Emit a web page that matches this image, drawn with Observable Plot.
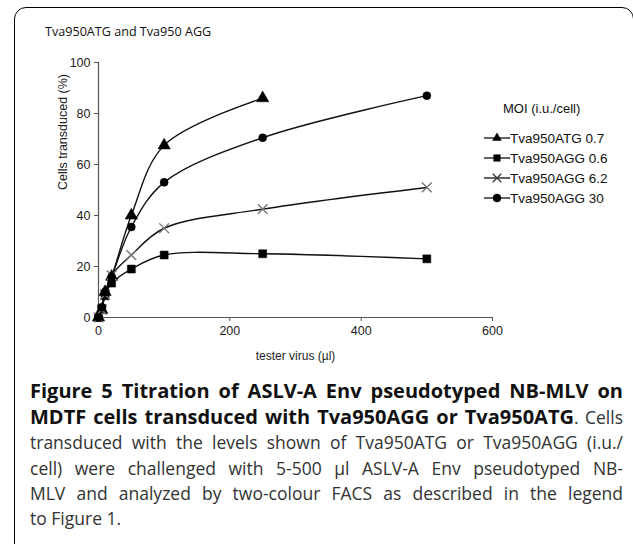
<!DOCTYPE html>
<html><head><meta charset="utf-8">
<script src="https://cdn.jsdelivr.net/npm/d3@7"></script>
<script src="https://cdn.jsdelivr.net/npm/@observablehq/plot@0.6"></script>
<style>
body{margin:0;background:#fff;width:633px;height:544px;overflow:hidden;position:relative;font-family:"Liberation Sans",Arial,sans-serif;}
#frame{position:absolute;left:14px;top:7px;width:620px;height:600px;border:1.5px solid #000;border-radius:12px;box-sizing:border-box;}
#title{position:absolute;left:45px;top:23px;font-family:"Open Sans",sans-serif;font-size:12.6px;color:#111;}
#chart{position:absolute;left:0;top:0;}
#legend{position:absolute;left:484px;top:101px;font-size:13.5px;color:#111;}
#legend .hd{margin-left:19px;margin-bottom:12px;font-size:13px;}
#legend .row{display:flex;align-items:center;height:20px;}
#caption{position:absolute;left:30px;top:378px;width:593px;font-family:"Open Sans",sans-serif;font-size:17.5px;line-height:25.2px;color:#333;white-space:nowrap;}
#caption .ln{text-align:justify;text-align-last:justify;}
#caption .ln.last{text-align-last:left;}
#caption b{color:#111;font-size:20px;}
</style></head>
<body>
<div id="frame"></div>
<div id="title">Tva950ATG and Tva950 AGG</div>
<div id="chart"></div>
<div id="legend"></div>
<div id="caption">
<div class="ln"><b>Figure 5 Titration of ASLV-A Env pseudotyped NB-MLV on</b></div>
<div class="ln"><b>MDTF cells transduced with Tva950AGG or Tva950ATG</b>. Cells</div>
<div class="ln">transduced with the levels shown of Tva950ATG or Tva950AGG (i.u./</div>
<div class="ln">cell) were challenged with 5-500 µl ASLV-A Env pseudotyped NB-</div>
<div class="ln">MLV and analyzed by two-colour FACS as described in the legend</div>
<div class="ln last">to Figure 1.</div>
</div>
<script>
const doses = [0, 5, 10, 20, 50, 100, 250, 500];
const seriesNames = ["Tva950ATG 0.7", "Tva950AGG 0.6", "Tva950AGG 6.2", "Tva950AGG 30"];
const atg07 = [0, 3, 10, 16, 40, 67.5, 86];
const agg06 = [0, 3.5, 8.5, 13.5, 19, 24.5, 25, 23];
const agg62 = [0, 3, 9, 16.5, 24.5, 35, 42.5, 51];
const agg30 = [0, 4, 10, 16, 35.5, 53, 70.5, 87];
const symbols = ["triangle", "square", "times", "circle"];
const xTicks = [0, 200, 400, 600];
const yTicks = [0, 20, 40, 60, 80, 100];

const allVals = [atg07, agg06, agg62, agg30];
const data = [];
allVals.forEach((vals, i) => vals.forEach((v, j) => data.push({series: seriesNames[i], dose: doses[j], pct: v})));

const markStyle = {
  "Tva950ATG 0.7": {r: 4.6, stroke: "#000"},
  "Tva950AGG 0.6": {r: 4.5, stroke: "#000"},
  "Tva950AGG 6.2": {r: 4.5, stroke: "#777"},
  "Tva950AGG 30": {r: 4.0, stroke: "#000"}
};

const plot = Plot.plot({
  width: 633, height: 370,
  marginLeft: 98, marginRight: 141, marginTop: 62, marginBottom: 53,
  style: {fontFamily: "Liberation Sans, Arial, sans-serif", fontSize: "12.5px", color: "#222", background: "transparent"},
  x: {domain: [0, 600], label: null},
  y: {domain: [0, 100], label: null},
  marks: [
    Plot.axisX({ticks: xTicks, tickSize: 4, tickPadding: 5, stroke: "#555", label: null, fontSize: 12.5}),
    Plot.axisY({ticks: yTicks, tickSize: 4, tickPadding: 4, stroke: "#555", label: null, fontSize: 12.5}),
    Plot.ruleX([0], {y1: 0, y2: 100, stroke: "#555", strokeWidth: 1.2}),
    Plot.ruleY([0], {x1: 0, x2: 600, stroke: "#555", strokeWidth: 1.2}),
    Plot.line(data, {x: "dose", y: "pct", z: "series", curve: "catmull-rom", stroke: "#111", strokeWidth: 1.4}),
    ...seriesNames.map((s, i) => Plot.dot(data.filter(d => d.series === s), {
      x: "dose", y: "pct", symbol: () => symbols[i],
      r: markStyle[s].r,
      fill: s === "Tva950AGG 6.2" ? "none" : "#000",
      stroke: markStyle[s].stroke, strokeWidth: s === "Tva950AGG 6.2" ? 1.4 : 0.5
    })),
    Plot.text(["Cells transduced (%)"], {frameAnchor: "left", dx: -36, rotate: -90, fontSize: 12.5, fill: "#222"}),
    Plot.text(["tester virus (µl)"], {frameAnchor: "bottom", dy: 42, fontSize: 12, fill: "#222"})
  ]
});
document.getElementById("chart").appendChild(plot);

// legend
const leg = document.getElementById("legend");
leg.innerHTML = '<div class="hd">MOI (i.u./cell)</div>';
const symPaths = {
  triangle: d3.symbol(d3.symbolTriangle2, 55)(),
  square: d3.symbol(d3.symbolSquare2, 55)(),
  times: d3.symbol(d3.symbolTimes, 50)(),
  circle: d3.symbol(d3.symbolCircle, 50)()
};
seriesNames.forEach((s, i) => {
  const row = document.createElement("div");
  row.className = "row";
  const sym = symbols[i];
  const fill = sym === "times" ? "none" : "#000";
  const st = sym === "times" ? "#333" : "#000";
  row.innerHTML = `<svg width="26" height="14"><line x1="0" x2="26" y1="7" y2="7" stroke="#111" stroke-width="1.3"/><path transform="translate(13,7)" d="${symPaths[sym]}" fill="${fill}" stroke="${st}" stroke-width="${sym === 'times' ? 1.3 : 0.5}"/></svg><span>${s}</span>`;
  leg.appendChild(row);
});
</script>
</body></html>
